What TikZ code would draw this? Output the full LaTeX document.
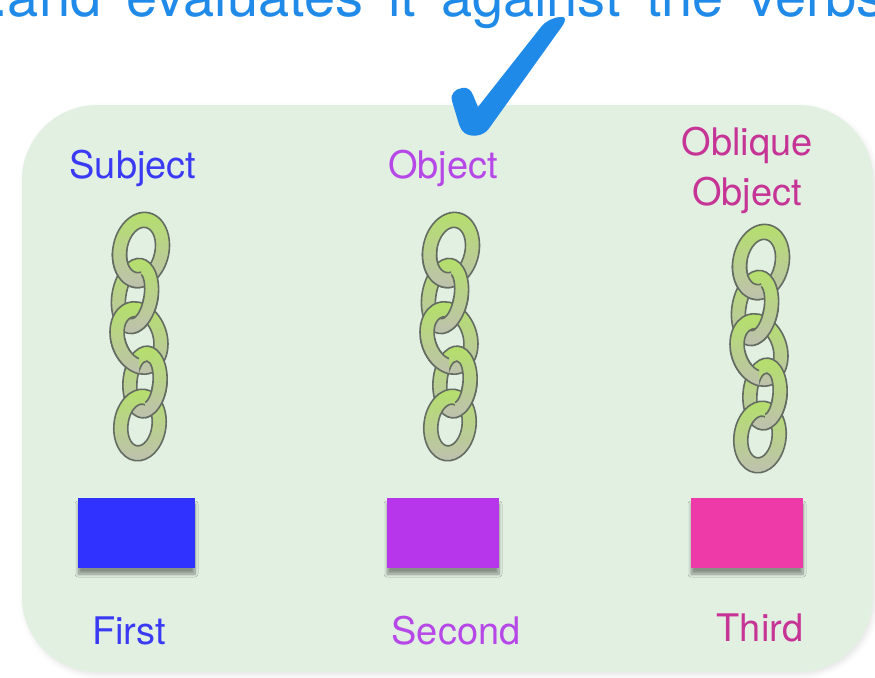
\documentclass[tikz,border=0pt]{standalone}
\usepackage{fontspec}
\setmainfont{TeX Gyre Heros}
\usetikzlibrary{shadows.blur}

\definecolor{panelgreen}{RGB}{226,240,226}
\definecolor{checkblue}{RGB}{31,138,232}
\definecolor{subjblue}{RGB}{58,58,245}
\definecolor{objpurple}{RGB}{183,72,232}
\definecolor{oblmagenta}{RGB}{198,52,150}
\definecolor{boxblue}{RGB}{48,50,255}
\definecolor{boxpurple}{RGB}{183,53,234}
\definecolor{boxpink}{RGB}{238,58,168}
\definecolor{linkgreen}{RGB}{180,224,106}
\definecolor{linkgray}{RGB}{190,192,176}
\definecolor{linkedge}{RGB}{100,108,98}

% one oval chain link: centre x, centre y, x radius, y radius, tilt
\newcommand\chlink[5]{%
  \pgfmathsetmacro\innerrx{#3-14}%
  \pgfmathsetmacro\innerry{#4-15}%
  \path[linkring, rotate around={#5:(#1,#2)}]
    (#1,#2) ellipse [x radius=#3, y radius=#4]
    (#1,#2) ellipse [x radius=\innerrx, y radius=\innerry];}

% lower part of a link redrawn on top of the next one (side: -1 left, 1 right)
\newcommand\chover[6]{%
  \begin{scope}
    \clip (#1,#2) rectangle ({#1+#6*45},{#2+50});
    \chlink{#1}{#2}{#3}{#4}{#5}
  \end{scope}}

% a hanging chain of five links, shifted by (dx,dy)
\newcommand\chainat[2]{%
  \begin{scope}[shift={(#1,#2)}]
    \chlink{141}{250}{28}{38}{-12}
    \chlink{135}{296}{23}{38}{-10}
    \chover{141}{250}{28}{38}{-12}{-1}
    \chlink{139}{338}{28}{37}{18}
    \chover{135}{296}{23}{38}{-10}{1}
    \chlink{145}{382}{22}{36}{-5}
    \chover{139}{338}{28}{37}{18}{-1}
    \chlink{140}{425}{26}{36}{-8}
    \chover{145}{382}{22}{36}{-5}{1}
  \end{scope}}

\begin{document}
\begin{tikzpicture}[x=1pt,y=-1pt,
  linkring/.style={shade, top color=linkgreen, middle color=linkgreen!80!linkgray,
    bottom color=linkgray, even odd rule, draw=linkedge, line width=1.6pt},
  label/.style={anchor=base, inner sep=0pt, font=\fontsize{38}{46}\selectfont},
  keybox/.style={minimum width=117pt, minimum height=70pt, inner sep=0pt,
    blur shadow={shadow xshift=0pt, shadow yshift=-6pt, shadow opacity=40,
      shadow blur radius=3pt, shadow blur steps=8}}]
\useasboundingbox (0,0) rectangle (875,677);
\clip (0,0) rectangle (875,677);

% caption running along the top edge
\node[anchor=base west, inner sep=0pt, text=checkblue,
  font=\fontsize{56}{60}\selectfont] (headline) at (-39,17)
  {\spaceskip=25pt ...and evaluates it against the verbs};

% rounded green panel
\fill[panelgreen, blur shadow={shadow xshift=2pt, shadow yshift=-3pt,
  shadow opacity=10, shadow blur radius=5pt}]
  (22,105) [rounded corners=75pt] rectangle (873,672);

% check mark
\fill[checkblue] (560,17) .. controls (566,16) and (566,20) .. (563,25)
  -- (490,127) .. controls (485,135) and (476,137) .. (469,135)
  .. controls (462,133) and (460,128) .. (458,121)
  -- (452,101) .. controls (450,94) and (455,89) .. (462,88)
  .. controls (468,87) and (471,90) .. (473,95)
  -- (478,107) -- (541,27) .. controls (546,21) and (552,18) .. (560,17) -- cycle;

% headings
\node[label, text=subjblue] (subjlbl) at (133,178) {Subject};
\node[label, text=objpurple] (objlbl) at (443,178) {Object};
\node[label, text=oblmagenta] (obllblA) at (747,155) {Oblique};
\node[label, text=oblmagenta] (obllblB) at (747,205) {Object};

% chains
\chainat{0}{0}
\chainat{310}{0}
\chainat{620}{12}

% coloured keys
\node[keybox, fill=boxblue] (firstbox) at (136.5,533) {};
\node[keybox, fill=boxpurple, minimum width=112pt] (secondbox) at (443,533) {};
\node[keybox, fill=boxpink, minimum width=112pt] (thirdbox) at (747,533) {};

% ordinal labels
\node[label, text=subjblue] (firstlbl) at (129,644) {First};
\node[label, text=objpurple] (secondlbl) at (456,644) {Second};
\node[label, text=oblmagenta] (thirdlbl) at (760,641) {Third};
\end{tikzpicture}
\end{document}
